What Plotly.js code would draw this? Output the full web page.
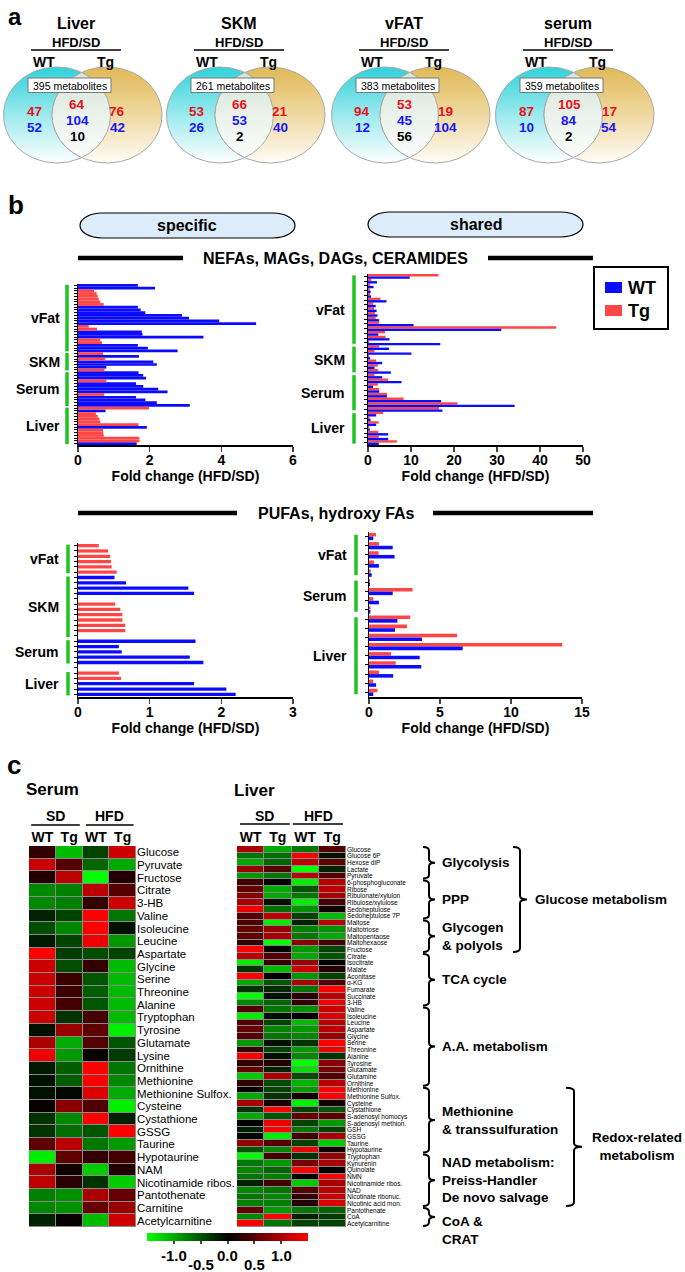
<!DOCTYPE html>
<html><head><meta charset="utf-8">
<script src="https://cdn.plot.ly/plotly-3.0.1.min.js"></script>
<style>html,body{margin:0;padding:0;background:#fff}</style>
</head><body><div id="chart" style="width:685px;height:1272px"></div>
<script>
// ================= DATA =================
// Panel a: Venn counts
const vennTissues = ['Liver', 'SKM', 'vFAT', 'serum'];
const vennTotals = [395, 261, 383, 359];
const wtOnlyUp = [47, 53, 94, 87];
const wtOnlyDown = [52, 26, 12, 10];
const sharedUp = [64, 66, 53, 105];
const sharedDown = [104, 53, 45, 84];
const sharedOpposite = [10, 2, 56, 2];
const tgOnlyUp = [76, 21, 19, 17];
const tgOnlyDown = [42, 40, 104, 54];

// Panel b: fold changes (HFD/SD)
const nefaSpecWT = [1.67,2.15,null,null,null,null,null,null,1.67,1.75,1.88,2.9,3.1,3.94,4.97,null,null,1.78,1.8,3.5,null,null,1.67,1.95,2.78,
  null,1.7,null,2.1,2.2,0.79,null,
  1.69,1.82,1.9,null,1.62,1.82,2.24,2.5,null,1.62,1.88,2.2,3.12,
  null,0.77,null,null,null,null,null,1.92,null,null,null,null,null,1.64];
const nefaSpecTg = [null,null,0.45,0.52,0.55,0.58,0.62,0.72,null,null,null,null,null,null,null,0.3,0.53,null,null,null,0.62,0.67,null,null,null,
  0.7,null,0.76,null,null,null,0.74,
  null,null,null,0.79,null,null,null,null,0.73,null,null,null,null,
  1.98,null,0.5,0.55,0.6,0.62,1.69,null,0.7,0.7,0.72,1.71,1.72,null];
const nefaSpecGroups = [['vFat',0,24],['SKM',25,31],['Serum',32,44],['Liver',45,58]];

const nefaSharedTg = [16.4,0.8,0.5,0.4,0.5,2.9,1.2,1.4,1.6,1.8,2.6,43.8,4.0,4.1,0.3,
  2.6,1.5,0.3,1.9,2.3,2.4,
  1.5,4.7,2.3,2.6,4.4,8.3,20.8,16.5,
  3.5,0.4,2.5,0.3,2.4,2.5,6.7];
const nefaSharedWT = [9.7,2.1,1.3,0.6,0.7,4.3,1.8,2.0,2.2,2.6,10.6,31.0,2.4,5.0,16.8,
  4.9,10.1,0.5,3.3,1.5,5.3,
  3.3,7.8,1.2,2.6,4.4,17.0,34.1,17.3,
  1.9,0.6,1.9,0.4,4.7,4.7,2.5];
const nefaSharedGroups = [['vFat',0,14],['SKM',15,20],['Serum',21,28],['Liver',29,35]];

const pufaSpecWT = [null,null,null,null,null,null,0.51,0.67,1.54,1.62,null,null,null,null,null,null,null,null,1.64,0.57,0.61,1.56,1.75,null,null,null,1.62,2.07,2.2];
const pufaSpecTg = [0.29,0.42,0.45,0.46,0.47,0.54,null,null,null,null,null,0.52,0.59,0.62,0.62,0.66,0.66,null,null,null,null,null,null,null,0.57,0.6,null,null,null];
const pufaSpecGroups = [['vFat',0,5],['SKM',6,17],['Serum',18,22],['Liver',24,28]];

const pufaSharedTg = [0.49,0.7,0.68,0.35,0.12,0.07,3.07,0.3,0.1,2.9,2.67,6.2,13.6,1.55,1.88,0.7,0.3,0.6];
const pufaSharedWT = [0.3,1.67,1.8,0.7,0.19,0.07,1.67,0.7,0.1,2.0,1.83,3.73,6.6,3.57,3.68,1.7,0.5,0.3];
const pufaSharedGroups = [['vFat',0,4],['Serum',5,8],['Liver',9,17]];

// Panel c: heatmaps (columns: SD WT, SD Tg, HFD WT, HFD Tg)
const heatColumns = ['WT', 'Tg', 'WT', 'Tg'];
const serumMetabolites = ['Glucose','Pyruvate','Fructose','Citrate','3-HB','Valine','Isoleucine','Leucine','Aspartate','Glycine','Serine','Threonine','Alanine','Tryptophan','Tyrosine','Glutamate','Lysine','Ornithine','Methionine','Methionine Sulfox.','Cysteine','Cystathione','GSSG','Taurine','Hypotaurine','NAM','Nicotinamide ribos.','Pantothenate','Carnitine','Acetylcarnitine'];
const serumZ = [
  [0.3,-1.1,-0.4,1.2],[1.2,0.5,-0.6,-1.0],[0.2,1.1,-1.5,0.2],[-0.8,-0.75,1.1,0.5],[-0.8,-0.75,0.3,1.2],
  [-0.2,-0.4,1.5,-0.7],[-0.45,-0.8,1.5,-0.1],[-0.15,-0.4,1.4,-0.9],[1.5,-0.35,-0.45,-0.4],[1.2,-0.45,0.3,-1.1],
  [1.2,0.35,-0.5,-1.1],[1.2,0.35,-0.55,-1.1],[1.2,0.4,-0.5,-1.1],[1.2,-0.3,0.4,-1.1],[-0.1,0.9,0.55,-1.4],
  [1.0,-1.0,0.5,-0.5],[1.4,-0.9,0.05,-0.35],[-0.15,-0.55,1.5,-0.7],[-0.1,-0.55,1.5,-0.8],[-0.1,-0.05,1.3,-1.0],
  [0.05,0.8,0.45,-1.4],[-0.3,-0.8,1.5,-0.2],[-0.3,-0.65,-0.5,1.5],[0.55,1.1,-0.7,-0.9],[-1.4,0.55,0.3,0.4],
  [1.0,0.1,-1.2,0.2],[1.1,0.25,-0.3,-1.2],[-0.75,-0.85,1.0,0.6],[-0.8,-0.85,0.6,0.9],[-0.2,0.05,-1.1,1.2]];
const liverMetabolites = ['Glucose','Glucose 6P','Hexose diP','Lactate','Pyruvate','6-phosphogluconate','Ribose','Ribulonate/xylulon','Ribulose/xylulose','Sedoheptulose','Sedoheptulose 7P','Maltose','Maltotriose','Maltopentaose','Maltohexaose','Fructose','Citrate','Isocitrate','Malate','Aconitase','α-KG','Fumarate','Succinate','3-HB','Valine','Isoleucine','Leucine','Aspartate','Glycine','Serine','Threonine','Alanine','Tyrosine','Glutamate','Glutamine','Ornithine','Methionine','Methionine Sulfox.','Cysteine','Cystathione','S-adenosyl homocys','S-adenosyl methion.','GSH','GSSG','Taurine','Hypotaurine','Tryptophan','Kynurenin','Quinolate','NMN','Nicotinamide ribos.','NAD','Nicotinate ribonuc.','Nicotinic acid mon.','Pantothenate','CoA','Acetylcarnitine'];
const liverZ = [
  [1.0,-1.0,-0.7,0.5],[-0.7,-0.65,1.5,-0.1],[-1.0,-0.6,1.1,0.55],[0.9,0.5,-1.5,-0.2],[-0.9,-0.7,1.1,0.5],
  [0.4,0.0,-1.4,1.1],[0.6,-1.0,-0.5,1.1],[0.8,-1.0,-0.7,1.0],[1.0,-0.1,-1.4,0.4],[1.4,-0.65,-0.85,0.1],
  [0.5,1.1,-0.4,-1.1],[0.45,-1.4,-0.2,1.1],[0.6,0.9,-0.75,-0.85],[0.55,1.0,-0.7,-1.0],[0.3,-1.5,0.8,0.4],
  [1.5,0.0,-0.9,-0.4],[1.1,0.5,-1.0,-0.5],[-1.4,0.3,0.9,0.0],[-0.3,-1.1,1.2,0.2],[1.5,0.0,-0.9,-0.4],
  [-1.0,-0.5,1.0,0.5],[-0.3,-0.25,-0.7,1.5],[-1.5,-0.1,0.25,1.1],[-0.8,-0.6,0.3,1.4],[0.5,-0.7,-0.85,1.2],
  [-1.4,-0.1,0.0,1.3],[0.5,-0.4,-1.1,1.1],[0.6,-0.8,-0.9,1.1],[0.5,-0.7,-0.8,0.9],[-0.9,-0.1,-0.3,1.5],
  [0.3,-0.4,-0.9,1.4],[1.5,-0.1,-0.8,-0.3],[0.3,0.2,-1.5,0.8],[0.6,-0.2,-1.3,0.7],[-1.2,1.0,-0.45,0.5],
  [0.3,-0.45,-1.05,1.1],[0.0,-0.4,-0.9,1.5],[-1.0,-0.3,0.1,1.5],[1.0,0.15,-1.4,0.1],[-0.3,1.5,-0.4,-0.5],
  [-1.0,-0.5,0.6,0.55],[0.0,1.4,-0.4,-0.9],[-0.2,1.5,-0.7,-0.4],[-0.05,-1.4,0.4,1.0],[0.9,0.5,-0.4,-1.2],
  [-0.5,-0.8,1.4,0.1],[-1.5,0.4,-0.3,0.9],[-0.7,-0.9,0.7,1.0],[-0.8,-0.6,1.5,0.05],[-0.7,-0.75,0.0,1.5],
  [-0.2,0.4,-1.2,1.0],[-0.8,-0.7,0.5,1.1],[-0.7,-0.8,0.3,1.2],[-0.75,-0.75,0.2,1.3],[0.6,-0.9,-0.7,-0.6],
  [-0.8,1.5,-0.2,-0.35],[1.5,-0.7,-0.4,-0.4]];
const liverGroups = [['Glycolysis',0,4],['PPP',5,10],['Glycogen<br>& polyols',11,15],['TCA cycle',16,23],['A.A. metabolism',24,35],['Methionine<br>& transsulfuration',36,45],['NAD metabolism:<br>Preiss-Handler<br>De novo salvage',46,53],['CoA &<br>CRAT',54,56]];
const liverSuperGroups = [['Glucose metabolism',0,15],['Redox-related<br>metabolism',36,53]];
const colorbarTicks = [-1, -0.5, 0, 0.5, 1];
const colorbarTickText = ['-1.0', '-0.5', '0.0', '0.5', '1.0'];

// ================= LAYOUT HELPERS =================
const W = 685, H = 1272;
const F = 'Liberation Sans, Arial, Helvetica, sans-serif';
const BLUE = '#0b0bff', RED = '#ff4646', GREEN = '#1ec51e';
const TXT_RED = '#e8101a', TXT_BLUE = '#1616ff';
const dX = (a, b) => [a / W, b / W];
const dY = (top, bot) => [1 - bot / H, 1 - top / H];
const shapes = [], annotations = [], traces = [];

function txt(x, y, text, size, o = {}) {
  const a = {xref: o.xref || 'x9', yref: o.yref || 'y9', x, y, text: String(text), showarrow: false,
    font: {family: F, size, color: o.color || '#000', weight: o.weight === undefined ? 700 : o.weight},
    xanchor: o.xanchor || 'center', yanchor: o.yanchor || 'middle', align: o.align || 'center'};
  if (o.height) a.height = o.height;
  annotations.push(a);
}
function hline(x0, y0, x1, y1, w, color = '#000', xref = 'x9', yref = 'y9') {
  shapes.push({type: 'line', xref, yref, x0, y0, x1, y1, line: {color, width: w}, layer: 'above'});
}
function rect(x0, y0, x1, y1, fill, lc, lw) {
  shapes.push({type: 'rect', xref: 'x9', yref: 'y9', x0, y0, x1, y1, fillcolor: fill, line: {color: lc || fill, width: lw || 0}, layer: 'above'});
}

// ================= PANEL a =================
txt(15, 16, 'a', 24);
const vennDX = [0, 163, 328, 492];
const cyanScale = [[0, '#2fd2dc'], [0.55, '#a6ecef'], [1, '#ffffff']];
const tanScale = [[0, '#e0b955'], [0.55, '#f1dcaa'], [1, '#fffdf7']];
const lensScale = [[0, '#d3e4d6'], [1, '#ffffff']];
function ellPts(e, t0, t1, n) {
  const xs = [], ys = [];
  for (let k = 0; k <= n; k++) { const t = t0 + (t1 - t0) * k / n; xs.push(e.cx + e.rx * Math.cos(t)); ys.push(e.cy + e.ry * Math.sin(t)); }
  return [xs, ys];
}
function inside(e, x, y) { return ((x - e.cx) / e.rx) ** 2 + ((y - e.cy) / e.ry) ** 2 <= 1.0001; }
function fillTrace(xs, ys, scale, y0, y1) {
  return {type: 'scatter', mode: 'lines', x: xs, y: ys, xaxis: 'x9', yaxis: 'y9', fill: 'toself',
    fillgradient: {type: 'vertical', start: y0, stop: y1, colorscale: scale},
    line: {color: '#a8a8a8', width: 1}, hoverinfo: 'skip', showlegend: false};
}
vennTissues.forEach((t, i) => {
  const d = vennDX[i];
  txt(76 + d, 23, t, 16);
  txt(76 + d, 42, 'HFD/SD', 13);
  hline(31 + d, 50, 121 + d, 50, 1.6);
  txt(44 + d, 62, 'WT', 14); txt(105 + d, 62, 'Tg', 14);
  const A = {cx: 57 + d, cy: 115, rx: 53.5, ry: 48}, B = {cx: 107 + d, cy: 115, rx: 55, ry: 48};
  let p = ellPts(A, 0, 2 * Math.PI, 200); traces.push(fillTrace(p[0], p[1], cyanScale, 67, 163));
  p = ellPts(B, 0, 2 * Math.PI, 200); traces.push(fillTrace(p[0], p[1], tanScale, 67, 163));
  const a = ellPts(A, -Math.PI / 2, Math.PI / 2, 300), b = ellPts(B, Math.PI / 2, 1.5 * Math.PI, 300);
  const lx = [], ly = [];
  a[0].forEach((x, k) => { if (inside(B, x, a[1][k])) { lx.push(x); ly.push(a[1][k]); } });
  b[0].forEach((x, k) => { if (inside(A, x, b[1][k])) { lx.push(x); ly.push(b[1][k]); } });
  traces.push(fillTrace(lx, ly, lensScale, 67, 163));
  rect(28 + d, 78, 111 + d, 92.5, '#ffffff', '#777', 1);
  txt(69.5 + d, 85.5, vennTotals[i] + ' metabolites', 10.5, {weight: 400});
  const fs = 13.5;
  txt(34 + d, 111, wtOnlyUp[i], fs, {color: TXT_RED});
  txt(34 + d, 127, wtOnlyDown[i], fs, {color: TXT_BLUE});
  txt(77 + d, 104, sharedUp[i], fs, {color: TXT_RED});
  txt(77 + d, 120, sharedDown[i], fs, {color: TXT_BLUE});
  txt(77 + d, 136, sharedOpposite[i], fs);
  txt(117 + d, 111, tgOnlyUp[i], fs, {color: TXT_RED});
  txt(117 + d, 127, tgOnlyDown[i], fs, {color: TXT_BLUE});
});

// ================= PANEL b =================
txt(16, 205, 'b', 26);
function pill(x0, y0, x1, y1) {
  const ry = (y1 - y0) / 2, rx = 22, k = 0.5523, ym = (y0 + y1) / 2;
  const path = `M ${x0 + rx},${y0} L ${x1 - rx},${y0} C ${x1 - rx + k * rx},${y0} ${x1},${ym - k * ry} ${x1},${ym} ` +
    `C ${x1},${ym + k * ry} ${x1 - rx + k * rx},${y1} ${x1 - rx},${y1} L ${x0 + rx},${y1} ` +
    `C ${x0 + rx - k * rx},${y1} ${x0},${ym + k * ry} ${x0},${ym} C ${x0},${ym - k * ry} ${x0 + rx - k * rx},${y0} ${x0 + rx},${y0} Z`;
  shapes.push({type: 'path', xref: 'x9', yref: 'y9', path, fillcolor: '#dcecfb', line: {color: '#000', width: 1.2}, layer: 'above'});
}
pill(80, 213, 295, 238); txt(187, 225.5, 'specific', 16);
pill(368, 212, 583, 237); txt(476, 224.5, 'shared', 16);
hline(78, 258, 183, 258, 4.5); txt(335, 258, 'NEFAs, MAGs, DAGs, CERAMIDES', 16); hline(488, 258, 593, 258, 4.5);
hline(78, 513, 237, 513, 4.5); txt(336, 513, 'PUFAs, hydroxy FAs', 16); hline(433, 513, 593, 513, 4.5);
// legend
rect(594, 267, 668, 329, '#ffffff', '#000', 2);
rect(605, 282, 622, 293, BLUE); txt(626, 288, 'WT', 18, {xanchor: 'left'});
rect(605, 305, 622, 316, RED); txt(626, 311, 'Tg', 18, {xanchor: 'left'});

const idx = arr => arr.map((_, i) => i);
function barTrace(vals, color, ax, width, offset) {
  return {type: 'bar', orientation: 'h', x: vals, y: idx(vals), xaxis: 'x' + ax, yaxis: 'y' + ax,
    marker: {color, line: {width: 0}}, width, offset, hoverinfo: 'skip', showlegend: false};
}
traces.push(barTrace(nefaSpecWT, BLUE, '', 1, -0.5), barTrace(nefaSpecTg, RED, '', 1, -0.5));
traces.push(barTrace(nefaSharedTg, RED, '2', 0.5, -0.5), barTrace(nefaSharedWT, BLUE, '2', 0.5, 0));
traces.push(barTrace(pufaSpecWT, BLUE, '3', 0.62, -0.31), barTrace(pufaSpecTg, RED, '3', 0.62, -0.31));
traces.push(barTrace(pufaSharedTg, RED, '4', 0.39, -0.4), barTrace(pufaSharedWT, BLUE, '4', 0.39, 0));

const tickFont = {family: F, size: 14, weight: 700, color: '#000'};
function barX(dom, range, tickvals, anchor) {
  return {domain: dom, range, anchor, tickmode: 'array', tickvals, ticks: 'outside', ticklen: 5, tickwidth: 1.5,
    showline: true, linewidth: 1.5, linecolor: '#000', showgrid: false, zeroline: false, tickfont: tickFont,
    ticklabelstandoff: -3,
    title: {text: 'Fold change (HFD/SD)', font: tickFont, standoff: 0}, fixedrange: true};
}
function barY(dom, n, anchor) {
  return {domain: dom, range: [n - 0.5, -0.5], anchor, tickmode: 'linear', tick0: 0, dtick: 1, ticks: 'outside',
    ticklen: 3, tickwidth: 1, tickcolor: '#000', showticklabels: false, showline: true, linewidth: 1.5,
    linecolor: '#000', showgrid: false, zeroline: false, fixedrange: true};
}
function groups(list, yref, gx, lx) {
  list.forEach(([name, a, b]) => {
    hline(gx, a - 0.5 + 0.3, gx, b + 0.5 - 0.3, 3.5, GREEN, 'x9', yref);
    txt(lx, (a + b) / 2, name, 14, {xanchor: 'right', yref});
  });
}
groups(nefaSpecGroups, 'y', 67, 62);
groups(nefaSharedGroups, 'y2', 354, 347);
groups(pufaSpecGroups, 'y3', 68, 61);
groups(pufaSharedGroups, 'y4', 356, 349);

// ================= PANEL c =================
txt(14, 765, 'c', 26);
txt(52, 789, 'Serum', 17);
txt(232, 790, 'Liver', 17, {xanchor: 'left'});
txt(0.5, 816, 'SD', 14, {xref: 'x5'}); txt(2.5, 816, 'HFD', 14, {xref: 'x5'});
hline(-0.42, 825, 1.4, 825, 1.6, '#000', 'x5', 'y9'); hline(1.63, 825, 3.41, 825, 1.6, '#000', 'x5', 'y9');
txt(0.5, 816, 'SD', 14, {xref: 'x6'}); txt(2.5, 816, 'HFD', 14, {xref: 'x6'});
hline(-0.39, 824, 1.44, 824, 1.6, '#000', 'x6', 'y9'); hline(1.55, 824, 3.39, 824, 1.6, '#000', 'x6', 'y9');

traces.push({type: 'heatmap', z: serumZ, x: [0, 1, 2, 3], y: serumMetabolites, xaxis: 'x5', yaxis: 'y5', coloraxis: 'coloraxis', xgap: 1, ygap: 1, hoverinfo: 'skip'});
traces.push({type: 'heatmap', z: liverZ, x: [0, 1, 2, 3], y: liverMetabolites, xaxis: 'x6', yaxis: 'y6', coloraxis: 'coloraxis', xgap: 1, ygap: 1, hoverinfo: 'skip'});
[['x5', 'y5', serumMetabolites.length], ['x6', 'y6', liverMetabolites.length]].forEach(([xr, yr, n]) => {
  shapes.push({type: 'rect', xref: xr, yref: yr, x0: -0.53, x1: 3.53, y0: -0.53, y1: n - 0.47, fillcolor: '#8a8a8a', line: {width: 0}, layer: 'below'});
});
function heatX(dom, anchor) {
  return {domain: dom, anchor, range: [-0.5, 3.5], side: 'top', tickmode: 'array', tickvals: [0, 1, 2, 3], ticktext: heatColumns,
    ticks: '', showline: false, showgrid: false, zeroline: false, tickfont: {family: F, size: 14, weight: 700, color: '#000'}, fixedrange: true};
}
function heatY(dom, anchor, names, size) {
  return {domain: dom, anchor, type: 'category', range: [names.length - 0.5, -0.5], side: 'right', tickmode: 'array', tickvals: names,
    ticktext: names, ticks: '', showline: false, showgrid: false, zeroline: false, tickfont: {family: F, size, color: '#000'}, fixedrange: true};
}
// brackets
function bracket(x, a, b, hookL, tickR, yref) {
  const t = a - 0.5 + 0.15, bt = b + 0.5 - 0.15, m = (a + b) / 2, c = 0.55;
  const path = `M ${x - hookL},${t} Q ${x},${t} ${x},${t + c} L ${x},${m - c} Q ${x},${m} ${x + tickR},${m} ` +
    `Q ${x},${m} ${x},${m + c} L ${x},${bt - c} Q ${x},${bt} ${x - hookL},${bt}`;
  shapes.push({type: 'path', xref: 'x9', yref, path, line: {color: '#000', width: 2}, layer: 'above'});
}
liverGroups.forEach(([label, a, b]) => {
  bracket(429, a, b, 6, 6, 'y6');
  if (label.startsWith('CoA')) txt(440, 54.3, label, 13.5, {yref: 'y6', xanchor: 'left', align: 'left', yanchor: 'top'});
  else txt(440, (a + b) / 2, label, 13.5, {yref: 'y6', xanchor: 'left', align: 'left'});
});
bracket(520, liverSuperGroups[0][1], liverSuperGroups[0][2], 7, 7, 'y6');
txt(533, (liverSuperGroups[0][1] + liverSuperGroups[0][2]) / 2, liverSuperGroups[0][0], 13.5, {yref: 'y6', xanchor: 'left'});
bracket(574, liverSuperGroups[1][1], liverSuperGroups[1][2], 8, 8, 'y6');
txt(637, (liverSuperGroups[1][1] + liverSuperGroups[1][2]) / 2, liverSuperGroups[1][0], 13.5, {yref: 'y6'});

// colorbar tick labels (staggered) on a helper axis matching the colorbar scale
traces.push({type: 'scatter', x: [], y: [], xaxis: 'x7', yaxis: 'y7', hoverinfo: 'skip', showlegend: false});
colorbarTicks.forEach((v, i) => txt(v, i % 2 ? 1263.5 : 1255, colorbarTickText[i], 15, {xref: 'x7', height: 14}));

const layout = {
  width: W, height: H, margin: {l: 0, r: 0, t: 0, b: 0}, paper_bgcolor: '#fff', plot_bgcolor: 'rgba(0,0,0,0)',
  showlegend: false, barmode: 'overlay', font: {family: F, color: '#000'},
  xaxis: barX(dX(78, 293), [0, 6], [0, 2, 4, 6], 'y'), yaxis: barY(dY(284, 445), nefaSpecWT.length, 'x'),
  xaxis2: barX(dX(368, 583), [0, 50], [0, 10, 20, 30, 40, 50], 'y2'), yaxis2: barY(dY(274, 445), nefaSharedWT.length, 'x2'),
  xaxis3: barX(dX(78, 293), [0, 3], [0, 1, 2, 3], 'y3'), yaxis3: barY(dY(543, 697), pufaSpecWT.length, 'x3'),
  xaxis4: barX(dX(369, 582), [0, 15], [0, 5, 10, 15], 'y4'), yaxis4: barY(dY(532, 697), pufaSharedWT.length, 'x4'),
  xaxis5: heatX(dX(29, 136), 'y5'), yaxis5: heatY(dY(846, 1227), 'x5', serumMetabolites, 11.5),
  xaxis6: heatX(dX(237, 346), 'y6'), yaxis6: heatY(dY(846, 1227), 'x6', liverMetabolites, 6.5),
  xaxis7: {domain: dX(147, 308), range: [-1.5, 1.5], anchor: 'y7', visible: false, fixedrange: true},
  yaxis7: {domain: dY(1233, 1241), range: [0, 1], anchor: 'x7', visible: false, fixedrange: true},
  xaxis9: {domain: [0, 1], range: [0, W], anchor: 'y9', visible: false, fixedrange: true},
  yaxis9: {domain: [0, 1], range: [H, 0], anchor: 'x9', visible: false, fixedrange: true},
  coloraxis: {cmin: -1.5, cmax: 1.5, colorscale: [[0, '#00ff00'], [0.5, '#000000'], [1, '#ff0000']],
    colorbar: {orientation: 'h', x: 147 / W, xanchor: 'left', y: 1 - 1233 / H, yanchor: 'top', len: 161, lenmode: 'pixels',
      thickness: 8, outlinewidth: 0, xpad: 0, ypad: 0, tickmode: 'array', tickvals: colorbarTicks, showticklabels: false,
      ticks: 'outside', ticklen: 3, tickwidth: 2, tickcolor: '#444'}},
  shapes, annotations
};
Plotly.newPlot('chart', traces, layout, {staticPlot: true, displayModeBar: false});
</script></body></html>
